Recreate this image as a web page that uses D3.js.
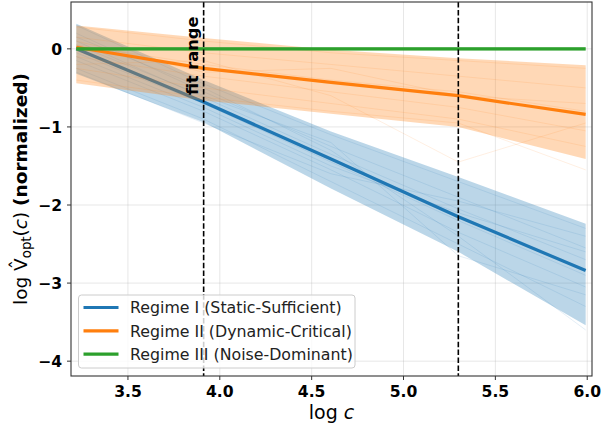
<!DOCTYPE html>
<html>
<head>
<meta charset="utf-8">
<script src="https://cdn.jsdelivr.net/npm/d3@7"></script>
<style>
  body { margin: 0; background: #fff; }
  svg { display: block; font-family: "DejaVu Sans", sans-serif; }
</style>
</head>
<body>
<div id="chart"></div>
<script>
// c values of the budget grid, plotted as log c
const cValues = [25, 50, 100, 200, 400];
const fitRange = [50, 200];

// Regime I (Static-Sufficient)
const blueMean  = [0, -0.68, -1.41, -2.15, -2.84];
const blueUpper = [0.32, -0.40, -1.06, -1.64, -2.24];
const blueLower = [-0.32, -0.94, -1.79, -2.60, -3.54];
const blueRuns = [
  [0.30, -0.45, -1.10, -1.70, -2.30],
  [0.20, -0.55, -1.25, -1.90, -2.55],
  [0.10, -0.62, -1.35, -2.05, -2.70],
  [-0.05, -0.70, -1.45, -2.20, -2.90],
  [-0.15, -0.80, -1.55, -2.35, -3.05],
  [-0.25, -0.90, -1.70, -2.50, -3.30],
  [0.15, -0.50, -1.30, -2.40, -3.60],
  [-0.30, -0.95, -1.60, -1.95, -2.40],
  [0.05, -0.60, -1.20, -2.65, -3.15],
  [-0.10, -0.75, -1.50, -2.10, -2.60]
];

// Regime II (Dynamic-Critical)
const orangeMean  = [0.02, -0.25, -0.43, -0.60, -0.84];
const orangeUpper = [0.30, 0.14, -0.01, -0.12, -0.21];
const orangeLower = [-0.44, -0.66, -0.83, -1.00, -1.41];
const orangeRuns = [
  [0.28, 0.10, -0.05, -0.15, -0.25],
  [0.15, -0.05, -0.20, -0.35, -0.50],
  [0.05, -0.20, -0.40, -0.55, -0.80],
  [-0.10, -0.35, -0.55, -0.75, -1.05],
  [-0.25, -0.50, -0.70, -0.90, -1.25],
  [-0.40, -0.62, -0.80, -0.95, -1.55],
  [0.10, -0.30, -0.25, -0.60, -0.70],
  [-0.20, -0.15, -0.60, -1.45, -0.95]
];

// Regime III (Noise-Dominant)
const greenMean  = [0, 0, 0, 0, 0];
const greenUpper = [0.02, 0.02, 0.02, 0.02, 0.02];
const greenLower = [-0.02, -0.02, -0.02, -0.02, -0.02];

const xTicks = [3.5, 4.0, 4.5, 5.0, 5.5, 6.0];
const yTicks = [0, -1, -2, -3, -4];

const regimes = [
  { name: 'Regime I (Static-Sufficient)', color: '#1f77b4', mean: blueMean, upper: blueUpper, lower: blueLower, runs: blueRuns },
  { name: 'Regime II (Dynamic-Critical)', color: '#ff7f0e', mean: orangeMean, upper: orangeUpper, lower: orangeLower, runs: orangeRuns },
  { name: 'Regime III (Noise-Dominant)', color: '#2ca02c', mean: greenMean, upper: greenUpper, lower: greenLower, runs: [] }
];

const W = 602, H = 427;
const plot = { left: 71, right: 592, top: 2, bottom: 376 };
const logC = cValues.map(c => Math.log(c));

const svg = d3.select('#chart').append('svg').attr('width', W).attr('height', H);

const x = d3.scaleLinear().domain([3.19, 6.026]).range([plot.left, plot.right]);
const y = d3.scaleLinear().domain([0.6, -4.19]).range([plot.top, plot.bottom]);

// grid
const grid = svg.append('g');
xTicks.forEach(t => grid.append('line')
  .attr('x1', x(t)).attr('x2', x(t)).attr('y1', plot.top).attr('y2', plot.bottom)
  .style('stroke', '#b0b0b0').style('stroke-opacity', 0.3).style('stroke-width', 1));
yTicks.forEach(t => grid.append('line')
  .attr('x1', plot.left).attr('x2', plot.right).attr('y1', y(t)).attr('y2', y(t))
  .style('stroke', '#b0b0b0').style('stroke-opacity', 0.3).style('stroke-width', 1));

svg.append('clipPath').attr('id', 'clip').append('rect')
  .attr('x', plot.left).attr('y', plot.top)
  .attr('width', plot.right - plot.left).attr('height', plot.bottom - plot.top);

const g = svg.append('g').attr('clip-path', 'url(#clip)');

const line = d3.line().x((d, i) => x(logC[i])).y(d => y(d));
const area = d3.area()
  .x((d, i) => x(logC[i]))
  .y0(d => y(d[0])).y1(d => y(d[1]));

regimes.forEach(r => {
  r.runs.forEach(run => {
    g.append('path').attr('d', line(run))
      .style('fill', 'none').style('stroke', r.color)
      .style('stroke-opacity', 0.12).style('stroke-width', 1);
  });
  g.append('path').attr('d', area(r.lower.map((v, i) => [v, r.upper[i]])))
    .style('fill', r.color).style('fill-opacity', 0.3).style('stroke', 'none');
  g.append('path').attr('d', line(r.mean))
    .style('fill', 'none').style('stroke', r.color).style('stroke-width', 3.2);
});

// fit range markers
fitRange.forEach(c => {
  svg.append('line')
    .attr('x1', x(Math.log(c))).attr('x2', x(Math.log(c)))
    .attr('y1', plot.top).attr('y2', plot.bottom)
    .style('stroke', '#000').style('stroke-width', 1.6)
    .style('stroke-dasharray', '5.5,2.4');
});
svg.append('text')
  .attr('transform', `translate(${x(Math.log(fitRange[0])) - 6}, 95) rotate(-90)`)
  .style('font-size', '16.2px').style('font-weight', 'bold').style('fill', '#000')
  .text('fit range');

// spines
svg.append('rect')
  .attr('x', plot.left).attr('y', plot.top)
  .attr('width', plot.right - plot.left).attr('height', plot.bottom - plot.top)
  .style('fill', 'none').style('stroke', '#333').style('stroke-width', 1.1);

// ticks
xTicks.forEach(t => {
  svg.append('line').attr('x1', x(t)).attr('x2', x(t))
    .attr('y1', plot.bottom).attr('y2', plot.bottom + 4)
    .style('stroke', '#333').style('stroke-width', 1);
  svg.append('text').attr('x', x(t)).attr('y', 397)
    .style('font-size', '15.6px').style('font-weight', 'bold')
    .style('text-anchor', 'middle').style('fill', '#000')
    .text(d3.format('.1f')(t));
});
yTicks.forEach(t => {
  svg.append('line').attr('x1', plot.left - 4).attr('x2', plot.left)
    .attr('y1', y(t)).attr('y2', y(t))
    .style('stroke', '#333').style('stroke-width', 1);
  svg.append('text').attr('x', 62).attr('y', y(t) + 5.7)
    .style('font-size', '15.6px').style('font-weight', 'bold')
    .style('text-anchor', 'end').style('fill', '#000')
    .text(t === 0 ? '0' : '\u2212' + Math.abs(t));
});

// axis labels
const xl = svg.append('text').attr('x', (plot.left + plot.right) / 2).attr('y', 419)
  .style('font-size', '19px').style('text-anchor', 'middle').style('fill', '#000');
xl.append('tspan').text('log ');
xl.append('tspan').style('font-style', 'italic').text('c');

const yFs = 18.5;
const yl = svg.append('text')
  .attr('transform', `translate(27, ${(plot.top + plot.bottom) / 2}) rotate(-90)`)
  .style('font-size', yFs + 'px').style('text-anchor', 'middle').style('fill', '#000');
yl.append('tspan').text('log V');
// hat over V, centred on the glyph
yl.append('tspan').attr('dx', -0.592 * yFs).attr('dy', -0.24 * yFs).text('\u02C6');
yl.append('tspan').attr('dx', 0.092 * yFs).attr('dy', 0.24 * yFs + 4)
  .style('font-size', (yFs * 0.72) + 'px').text('opt');
yl.append('tspan').attr('dy', -4).text('(');
yl.append('tspan').style('font-style', 'italic').text('c');
yl.append('tspan').text(') ');
yl.append('tspan').style('font-weight', 'bold').text('(normalized)');

// legend
const lg = svg.append('g').attr('transform', 'translate(78.5, 295)');
lg.append('rect').attr('width', 276.5).attr('height', 73).attr('rx', 3)
  .style('fill', '#fff').style('fill-opacity', 0.8)
  .style('stroke', '#ccc').style('stroke-width', 1);
regimes.forEach((r, i) => {
  const cy = 12.5 + i * 23.3;
  lg.append('line').attr('x1', 5).attr('x2', 40).attr('y1', cy).attr('y2', cy)
    .style('stroke', r.color).style('stroke-width', 3.2);
  lg.append('text').attr('x', 51.5).attr('y', cy + 5.8)
    .style('font-size', '15.8px').style('fill', '#222').text(r.name);
});
</script>
</body>
</html>
